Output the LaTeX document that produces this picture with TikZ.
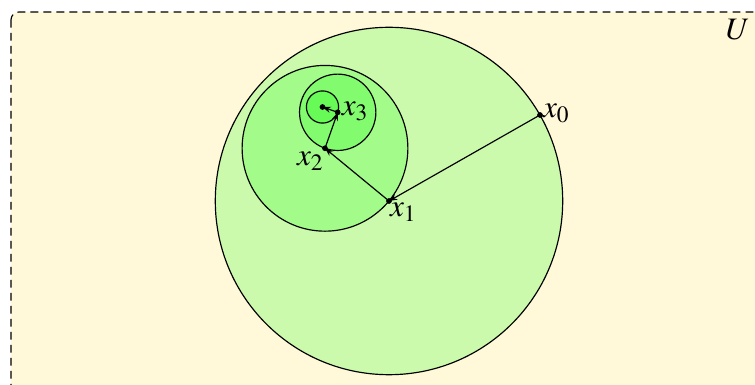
\documentclass[tikz,border=0pt]{standalone}
\usepackage{mathptmx}
\usetikzlibrary{arrows.meta,calc}
\definecolor{bgyellow}{RGB}{255,249,217}
\tikzset{
  ball/.style={draw=black, line width=0.45pt, fill=green, fill opacity=0.2},
  step arrow/.style={line width=0.45pt, -{Stealth[length=3.2pt,width=2.4pt]}},
  lbl/.style={inner sep=1pt, font=\large},
}
\begin{document}
\begin{tikzpicture}[x=0.3845pt, y=-0.3845pt]
\useasboundingbox (0,0) rectangle (755,385);
\draw[dash pattern=on 3pt off 2pt, fill=bgyellow, rounded corners=3pt, line width=0.45pt] (11,12) rectangle (780,410);
\coordinate (x0) at (540,115);
\coordinate (x1) at (389,201);
\coordinate (x2) at (325,148.3);
\coordinate (x3) at (337.7,112.3);
\coordinate (x4) at (322.5,107);
\path[ball] let \p1=($(x0)-(x1)$), \n1={veclen(\x1,\y1)} in (x1) circle[radius=\n1];
\path[ball] let \p1=($(x1)-(x2)$), \n1={veclen(\x1,\y1)} in (x2) circle[radius=\n1];
\path[ball] let \p1=($(x2)-(x3)$), \n1={veclen(\x1,\y1)} in (x3) circle[radius=\n1];
\path[ball] let \p1=($(x3)-(x4)$), \n1={veclen(\x1,\y1)} in (x4) circle[radius=\n1];
\draw[step arrow] (x0) -- (x1);
\draw[step arrow] (x1) -- (x2);
\draw[step arrow] (x2) -- (x3);
\draw[step arrow] (x3) -- (x4);
\foreach \p in {x0,x1,x2,x3,x4} \fill (\p) circle[radius=1.1pt];
\node[lbl, anchor=west] (l0) at ($(x0)+(0,-2)$) {$x_0$};
\node[lbl, anchor=north west] (l1) at ($(x1)+(-2,-1)$) {$x_1$};
\node[lbl, anchor=north east] (l2) at ($(x2)+(2,1)$) {$x_2$};
\node[lbl, anchor=west] (l3) at ($(x3)+(1,-1)$) {$x_3$};
\node[lbl, anchor=north east] (lU) at (753,16) {$U$};
\end{tikzpicture}
\end{document}
